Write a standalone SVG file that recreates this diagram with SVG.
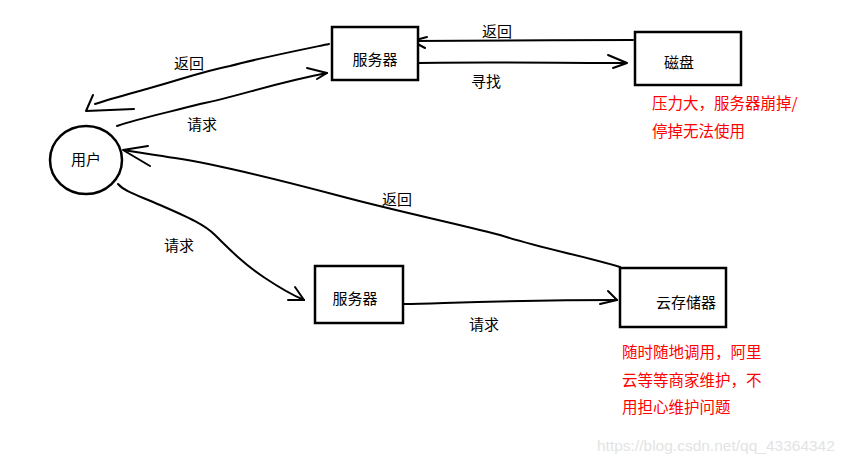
<svg xmlns="http://www.w3.org/2000/svg" width="850" height="465" viewBox="0 0 850 465">
<style>
.box{fill:#fff;stroke:#000;stroke-width:2.5}
.line{fill:none;stroke:#000;stroke-width:2;stroke-linecap:round;stroke-linejoin:round}
.t{font-family:"Microsoft YaHei","Noto Sans CJK SC",sans-serif;font-size:15px;fill:#000}
.red{font-family:"Microsoft YaHei","Noto Sans CJK SC",sans-serif;font-size:15.5px;fill:#f00}
.wm{font-family:"Liberation Sans",Arial,sans-serif;font-size:15.5px;fill:#e3e3e3}
</style>
<rect width="850" height="465" fill="#fff"/>
<g id="connectors">
<g id="c1">
<path class="line" d="M329,44 C300,50 260,58 230,66 C200,72 180,80 150,88 C125,95 110,99 95,104"/>
<path class="line" d="M93,95 L86,111 L134,109"/>
</g>
<g id="c2">
<path class="line" d="M117,126 C140,118 170,112 200,104 C240,96 270,84 327,73"/>
<path class="line" d="M307,68 L327,73 L317,79"/>
</g>
<g id="c3">
<path class="line" d="M633,40 C560,40 480,41 412,41"/>
<path class="line" d="M427,37 L412,41 L425,48"/>
</g>
<g id="c4">
<path class="line" d="M419,63 C480,62 560,63 626,63"/>
<path class="line" d="M608,55 L627,63 L613,68"/>
</g>
<g id="c5">
<path class="line" d="M620,267 C580,255 540,248 500,235 C450,222 400,212 340,196 C280,180 220,165 175,158 C150,154 135,152 124,150"/>
<path class="line" d="M148,146 L123,150 L150,166"/>
</g>
<g id="c6">
<path class="line" d="M118,184 C125,192 140,196 160,205 C190,218 205,225 215,235 C230,250 245,265 265,278 C280,288 290,294 304,300"/>
<path class="line" d="M295,287 L304,300 L288,300"/>
</g>
<g id="c7">
<path class="line" d="M404,304 C450,303 520,300 617,300"/>
<path class="line" d="M608,291 L617,300 L600,304"/>
</g>
</g>
<g id="labels">
<text class="t" x="174" y="69">返回</text>
<text class="t" x="187" y="130">请求</text>
<text class="t" x="482" y="37">返回</text>
<text class="t" x="471" y="87">寻找</text>
<text class="t" x="382" y="205">返回</text>
<text class="t" x="164" y="251">请求</text>
<text class="t" x="469" y="330">请求</text>
</g>
<g id="user">
<ellipse cx="86" cy="160" rx="36" ry="34" fill="#fff" stroke="#000" stroke-width="2.5"/>
<text class="t" x="86" y="165" text-anchor="middle">用户</text>
</g>
<g id="server1">
<rect class="box" x="332" y="27" width="86" height="53"/>
<text class="t" x="375" y="65" text-anchor="middle">服务器</text>
</g>
<g id="disk">
<rect class="box" x="635" y="32" width="106" height="53"/>
<text class="t" x="679" y="68" text-anchor="middle">磁盘</text>
<text class="red" x="652" y="109">压力大，服务器崩掉/</text>
<text class="red" x="652" y="137">停掉无法使用</text>
</g>
<g id="server2">
<rect class="box" x="315" y="266" width="88" height="57"/>
<text class="t" x="355" y="304" text-anchor="middle">服务器</text>
</g>
<g id="cloud">
<rect class="box" x="620" y="268" width="106" height="59"/>
<text class="t" x="686" y="308" text-anchor="middle">云存储器</text>
<text class="red" x="622" y="358">随时随地调用，阿里</text>
<text class="red" x="622" y="386">云等等商家维护，不</text>
<text class="red" x="622" y="413">用担心维护问题</text>
</g>
<text class="wm" x="597" y="451">https://blog.csdn.net/qq_43364342</text>
</svg>
